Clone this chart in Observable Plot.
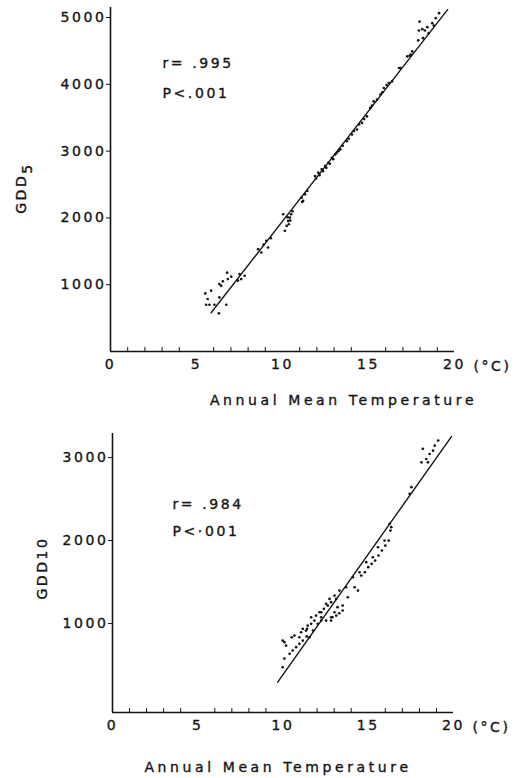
<!DOCTYPE html>
<html>
<head>
<meta charset="utf-8">
<script src="https://cdn.jsdelivr.net/npm/d3@7"></script>
<script src="https://cdn.jsdelivr.net/npm/@observablehq/plot@0.6"></script>
<style>
  body { margin: 0; background: #fff; }
  #chart svg { display: block; }
  /* slightly heavier lettering, like the printed figure */
  #chart svg text { stroke: #151515; stroke-width: 0.35px; }
</style>
</head>
<body>
<div id="chart"></div>
<script>
// Growing degree days (base 5 °C) against annual mean temperature
const temp5 = [5.51, 5.85, 5.65, 5.56, 5.75, 6.04, 6.30, 6.73, 6.33, 6.43, 6.33, 6.53, 6.78, 6.82, 7.02, 7.41, 7.50, 7.80, 7.60,
  8.58, 8.77, 9.06, 9.16, 9.32, 8.90, 10.04, 10.14, 10.24, 10.33, 10.37, 10.43, 10.50, 10.58, 10.45, 10.30,
  11.11, 11.20, 11.31, 11.44, 11.15, 11.89, 11.95, 12.08, 12.15, 12.28, 12.35, 12.48, 12.55, 12.67, 12.75,
  12.87, 12.95, 13.06, 13.15, 13.26, 13.36, 13.50, 13.74, 13.85, 14.04, 14.15, 14.33, 14.45, 14.62, 14.75,
  14.91, 15.10, 15.20, 15.30, 15.50, 15.69, 15.80, 15.89, 16.05, 16.18, 16.37, 16.77, 16.86, 17.25, 17.39,
  17.45, 17.54, 17.89, 17.93, 17.97, 18.13, 18.17, 18.28, 18.42, 18.50, 18.71, 18.80, 18.91, 19.10];
const gdd5 = [870, 910, 786, 700, 700, 700, 572, 700, 810, 985, 1010, 1050, 1180, 1085, 1120, 1060, 1160, 1134, 1085,
  1532, 1482, 1657, 1557, 1697, 1600, 2055, 1806, 1880, 1955, 1905, 2005, 2055, 2100, 1960, 2010,
  2303, 2255, 2353, 2403, 2240, 2627, 2590, 2677, 2640, 2727, 2700, 2776, 2750, 2826, 2810,
  2900, 2880, 2950, 2975, 3000, 3025, 3080, 3149, 3185, 3249, 3300, 3323, 3400, 3422, 3480,
  3520, 3646, 3680, 3746, 3771, 3846, 3880, 3945, 3990, 4020, 4045, 4244, 4244, 4418, 4428,
  4443, 4493, 4657, 4806, 4940, 4826, 4691, 4806, 4856, 4765, 4915, 4880, 4990, 5065];

// Growing degree days (base 10 °C) against annual mean temperature
const temp10 = [9.98, 10.08, 10.39, 10.57, 10.77, 10.96, 11.16, 11.39, 11.55, 9.98, 10.08, 10.18, 10.51, 10.67,
  10.96, 11.06, 11.16, 11.35, 11.41, 11.45, 11.65, 11.76, 11.84, 11.65, 11.94, 12.04, 12.14, 12.24, 12.24,
  12.40, 12.53, 12.63, 12.73, 12.82, 13.02, 13.12, 13.31, 13.70, 14.10, 14.49, 14.88, 15.27, 15.57, 15.96,
  16.25, 16.35, 12.24, 12.53, 12.82, 12.82, 12.90, 13.02, 13.12, 13.20, 13.30, 13.50, 13.50, 13.80, 14.20,
  14.40, 14.59, 14.80, 15.00, 15.20, 15.40, 15.60, 15.80, 16.00, 16.20, 16.30, 17.43, 17.53, 18.12, 18.20,
  18.40, 18.50, 18.60, 18.80, 18.90, 19.10];
const gdd10 = [473, 578, 635, 675, 715, 755, 795, 845, 835, 795, 775, 735, 835, 855,
  835, 895, 936, 915, 936, 976, 996, 915, 1036, 1076, 1096, 996, 1136, 1076, 1136,
  1177, 1237, 1217, 1297, 1257, 1337, 1297, 1397, 1437, 1558, 1618, 1739, 1799, 1919, 2000,
  2201, 2161, 1036, 1036, 1036, 1076, 1076, 1136, 1096, 1197, 1124, 1157, 1217, 1317, 1437,
  1397, 1578, 1618, 1679, 1719, 1759, 1820, 1880, 1940, 2000, 2120, 2562, 2643, 2943, 3105,
  2983, 2943, 3043, 3083, 3143, 3205];

// Least-squares lines and the temperature span they are drawn over
const fitSlope5 = 330, fitIntercept5 = -1350, fitSpan5 = [5.85, 19.6];
const fitSlope10 = 290.5, fitIntercept10 = -2522, fitSpan10 = [9.69, 19.88];

const stats5 = ["r= .995", "P<.001"];
const stats10 = ["r= .984", "P<·001"];

const xTicks = [0, 5, 10, 15, 20];
const xMinorTicks = [1, 2, 3, 4, 6, 7, 8, 9, 11, 12, 13, 14, 16, 17, 18, 19];
const yTicks5 = [1000, 2000, 3000, 4000, 5000];
const yTicks10 = [1000, 2000, 3000];
const xUnit = "(°C)";
const xTitle = "Annual Mean Temperature";

const ink = "#151515";

function panel({temps, gdds, slope, intercept, span, stats, yTicks, yDomain,
                height, margin, statsOffset, statsLeading, titleOffset, yLabel}) {
  const points = temps.map((t, i) => ({t, g: gdds[i]}));
  const fit = span.map(t => ({t, g: slope * t + intercept}));
  const svg = Plot.plot({
    width: 514,
    height,
    marginTop: margin.top,
    marginRight: margin.right,
    marginBottom: margin.bottom,
    marginLeft: margin.left,
    style: {fontFamily: "'DejaVu Sans', sans-serif", fontSize: "14px", letterSpacing: "2.6px", color: ink, background: "#fff"},
    x: {domain: [0, 20]},
    y: {domain: yDomain},
    marks: [
      Plot.axisY({ticks: yTicks, tickSize: 4, tickPadding: 0, tickFormat: d3.format("d"), label: null, stroke: ink}),
      Plot.axisX({ticks: xTicks, tickSize: 0, tickPadding: 8, tickFormat: d3.format("d"), label: null}),
      Plot.axisX({ticks: xMinorTicks, tickSize: -4, tickFormat: () => "", label: null, stroke: ink}),
      Plot.ruleX([0], {stroke: ink, strokeWidth: 1.6}),
      Plot.ruleY([yDomain[0]], {stroke: ink, strokeWidth: 1.6}),
      Plot.line(fit, {x: "t", y: "g", stroke: ink, strokeWidth: 1.4}),
      Plot.dot(points, {x: "t", y: "g", r: 1.35, fill: ink}),
      Plot.text([xUnit], {x: xTicks[xTicks.length - 1], y: yDomain[0], dx: 38, dy: 15, fill: ink}),
      Plot.text([stats.join("\n")], {frameAnchor: "top-left", textAnchor: "start", lineAnchor: "middle",
        lineHeight: statsLeading, dx: statsOffset[0], dy: statsOffset[1], fill: ink}),
      Plot.text([xTitle], {frameAnchor: "bottom", dx: titleOffset[0], dy: titleOffset[1], fill: ink})
    ]
  });
  // the axis title is set a little wider than the tick labels
  d3.select(svg).selectAll("text").filter(function() { return this.textContent === xTitle; })
    .style("letter-spacing", "3.6px");
  // rotated y title, with an optional subscript
  const label = d3.select(svg).append("text")
    .attr("transform", `translate(${yLabel.x},${yLabel.y}) rotate(-90)`)
    .attr("text-anchor", "middle")
    .attr("dominant-baseline", "middle")
    .attr("fill", ink)
    .text(yLabel.text);
  if (yLabel.sub) {
    label.append("tspan").attr("dy", 6).text(yLabel.sub);
  }
  return svg;
}

const chart = document.getElementById("chart");
chart.append(panel({
  temps: temp5, gdds: gdd5, slope: fitSlope5, intercept: fitIntercept5, span: fitSpan5,
  stats: stats5, yTicks: yTicks5, yDomain: [0, 5150], height: 410,
  margin: {top: 7, right: 60, bottom: 59, left: 110},
  statsOffset: [52, 66], statsLeading: 2.14, titleOffset: [61, 53],
  yLabel: {text: "GDD", sub: "5", x: 22, y: 188}
}));
chart.append(panel({
  temps: temp10, gdds: gdd10, slope: fitSlope10, intercept: fitIntercept10, span: fitSpan10,
  stats: stats10, yTicks: yTicks10, yDomain: [-72, 3290], height: 368,
  margin: {top: 23, right: 61, bottom: 66, left: 112},
  statsOffset: [60, 80], statsLeading: 1.93, titleOffset: [-5, 59],
  yLabel: {text: "GDD10", x: 43, y: 158}
}));
</script>
</body>
</html>
